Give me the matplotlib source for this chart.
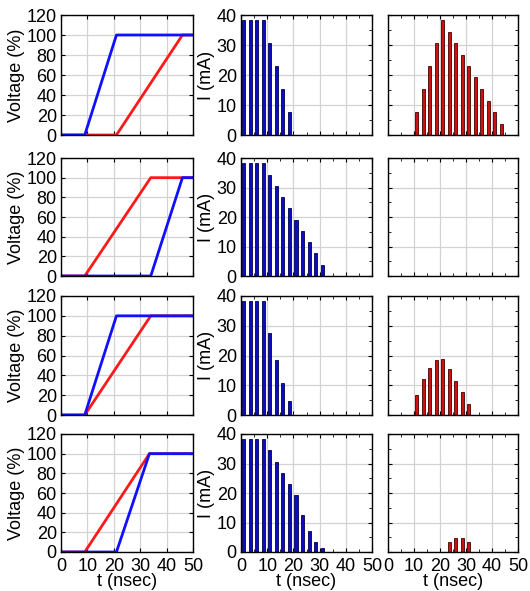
import matplotlib
matplotlib.use('Agg')
import matplotlib.pyplot as plt
import numpy as np

plt.rcParams['font.family'] = ['Liberation Sans', 'DejaVu Sans']
plt.rcParams['font.size'] = 13

# Voltage ramps (t in nsec, voltage in %), one pair per row
red_t = [[0, 21, 46, 50], [0, 9, 34, 50], [0, 9, 34, 50], [0, 9, 33.5, 50]]
red_v = [[0, 0, 100, 100], [0, 0, 100, 100], [0, 0, 100, 100], [0, 0, 100, 100]]
blue_t = [[0, 9, 21, 50], [0, 34, 46, 50], [0, 9, 21, 50], [0, 21, 33.5, 50]]
blue_v = [[0, 0, 100, 100], [0, 0, 100, 100], [0, 0, 100, 100], [0, 0, 100, 100]]

# Current bars, blue (middle column): sampled every 2.5 ns starting at 1 ns
blue_start = [1, 1, 1, 1]
blue_i = [
    [38.2, 38.2, 38.2, 38.2, 30.6, 23.0, 15.3, 7.6],
    [38.3, 38.3, 38.3, 38.3, 34.4, 30.6, 26.7, 23.0, 19.0, 15.2, 11.5, 7.7, 3.8],
    [38.2, 38.2, 38.2, 38.2, 27.7, 18.4, 10.6, 4.7],
    [38.4, 38.4, 38.4, 38.4, 34.5, 30.6, 26.8, 23.1, 19.3, 12.6, 7.2, 3.5, 1.2],
]

# Current bars, red (right column)
red_start = [11, 11, 11, 23.5]
red_i = [
    [7.8, 15.3, 23.0, 30.6, 38.3, 34.5, 30.6, 26.8, 23.0, 19.2, 15.3, 11.5, 7.7, 3.8],
    [],
    [6.8, 12.1, 15.8, 18.4, 18.8, 15.4, 11.3, 7.6, 3.7],
    [3.3, 4.8, 4.8, 3.4],
]
step = 2.5

fig = plt.figure(figsize=(5.30, 5.91), dpi=100)

col_left = [61, 241, 388]
col_right = [193, 372, 518]
row_top = [15, 158, 296, 434]
row_bot = [135, 276, 415, 552]
W, H = 530.0, 591.0


def style(ax, last_row):
    ax.grid(True, color='#d2d2d2', linewidth=0.9)
    ax.set_axisbelow(True)
    ax.tick_params(direction='in', top=True, right=True, length=3, width=0.8, pad=3)
    ax.tick_params(axis='x', pad=4)
    ax.tick_params(which='minor', direction='in', top=True, right=True, length=2, width=0.6)
    for s in ax.spines.values():
        s.set_linewidth(1.0)
    ax.set_xlim(0, 50)
    ax.set_xticks([0, 10, 20, 30, 40, 50])
    if last_row:
        ax.set_xlabel('t (nsec)', labelpad=-1)
    else:
        ax.set_xticklabels([])


for r in range(4):
    last = r == 3
    axes = []
    for c in range(3):
        ax = fig.add_axes([col_left[c] / W, 1 - row_bot[r] / H,
                           (col_right[c] - col_left[c]) / W,
                           (row_bot[r] - row_top[r]) / H])
        axes.append(ax)

    # voltage
    ax = axes[0]
    ax.plot(red_t[r], red_v[r], color='#ff1a1a', linewidth=2)
    ax.plot(blue_t[r], blue_v[r], color='#1010ff', linewidth=2)
    ax.set_ylim(0, 120)
    ax.set_yticks(np.arange(0, 121, 20))
    ax.set_ylabel('Voltage (%)', labelpad=1)
    style(ax, last)

    # blue current
    ax = axes[1]
    x = blue_start[r] + step * np.arange(len(blue_i[r]))
    ax.bar(x, blue_i[r], width=1.2, color='#0c0cc0', edgecolor='#000050', linewidth=0.6)
    ax.set_ylim(0, 40)
    ax.set_yticks([0, 10, 20, 30, 40])
    ax.set_yticks(np.arange(5, 40, 10), minor=True)
    ax.set_xticks(np.arange(5, 50, 10), minor=True)
    ax.set_ylabel('I (mA)', labelpad=1)
    style(ax, last)

    # red current
    ax = axes[2]
    if red_i[r]:
        x = red_start[r] + step * np.arange(len(red_i[r]))
        ax.bar(x, red_i[r], width=1.2, color='#d01010', edgecolor='#400000', linewidth=0.6)
    ax.set_ylim(0, 40)
    ax.set_yticks([0, 10, 20, 30, 40])
    ax.set_yticks(np.arange(5, 40, 10), minor=True)
    ax.set_xticks(np.arange(5, 50, 10), minor=True)
    ax.set_yticklabels([])
    style(ax, last)

fig.savefig('out.png', dpi=100)
